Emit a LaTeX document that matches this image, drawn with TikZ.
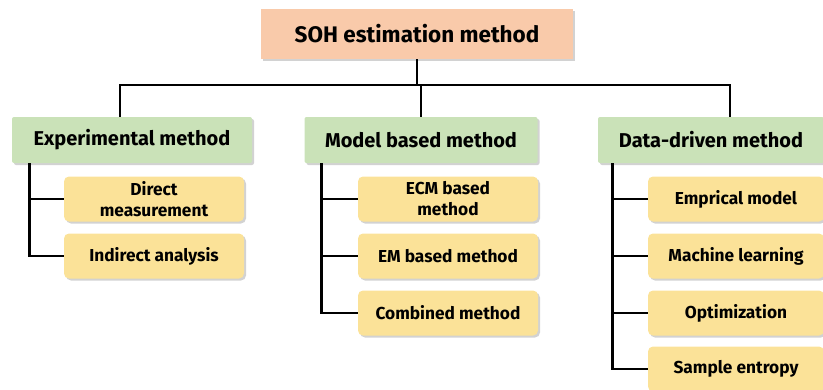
\documentclass[tikz,border=0pt]{standalone}
\usepackage{xcolor}
\usepackage{fontspec}
\setmainfont{Fira Sans}
\usepackage{tikz}
\usetikzlibrary{positioning,shadows}

\definecolor{peach}{RGB}{249,202,170}
\definecolor{leaf}{RGB}{202,226,184}
\definecolor{butter}{RGB}{251,226,152}

\tikzset{
  boxshadow/.style={drop shadow={shadow xshift=2pt,shadow yshift=-2pt,fill=black!35}},
  rootbox/.style={fill=peach,boxshadow,minimum width=312pt,minimum height=50pt,font=\bfseries\fontsize{22.5}{24}\selectfont},
  groupbox/.style={fill=leaf,boxshadow,rounded corners=2pt,minimum height=46pt,inner sep=1pt,font=\bfseries\fontsize{20}{22}\selectfont},
  leafbox/.style={fill=butter,boxshadow,rounded corners=5pt,minimum width=180pt,minimum height=45pt,inner sep=1pt,align=center,font=\bfseries\fontsize{17.3}{21}\selectfont},
  line/.style={line width=2.8pt}
}

\begin{document}
\begin{tikzpicture}[x=1pt,y=-1pt]
			\useasboundingbox (0,0) rectangle (823,389);
			
			\node[rootbox] (soh) at (417,34) {SOH estimation method};
			
			\node[groupbox,minimum width=240pt] (exp) at (132,140) {Experimental method};
			\node[groupbox,minimum width=233pt] (mod) at (421,140) {Model based method};
			\node[groupbox,minimum width=226pt] (dat) at (711,140) {Data-driven method};
			
			\node[leafbox] (dm) at (154,199) {Direct\\measurement};
			\node[leafbox] (ia) at (154,256) {Indirect analysis};
			
			\node[leafbox] (ecm) at (448,199) {ECM based\\method};
			\node[leafbox] (em) at (448,256) {EM based method};
			\node[leafbox] (cm) at (448,313) {Combined method};
			
			\node[leafbox,minimum width=176pt] (emp) at (736,199) {Emprical model};
			\node[leafbox,minimum width=176pt] (ml) at (736,256) {Machine learning};
			\node[leafbox,minimum width=176pt] (opt) at (736,313) {Optimization};
			\node[leafbox,minimum width=176pt] (se) at (736,369) {Sample entropy};
			
			\coordinate (bus) at (0,85);
			\draw[line] (soh) -- (soh |- bus);
			\draw[line] ([xshift=-12pt]exp.north) |- (bus -| mod.north) -- (mod.north);
			\draw[line] (bus -| mod.north) -| ([xshift=19pt]dat.north);
			
			\foreach \n in {dm,ia}
				\draw[line] ([xshift=18pt]exp.south west) |- (\n.west);
			\foreach \n in {ecm,em,cm}
				\draw[line] ([xshift=17pt]mod.south west) |- (\n.west);
			\foreach \n in {emp,ml,opt,se}
				\draw[line] ([xshift=15pt]dat.south west) |- (\n.west);
			
		\end{tikzpicture}
\end{document}
